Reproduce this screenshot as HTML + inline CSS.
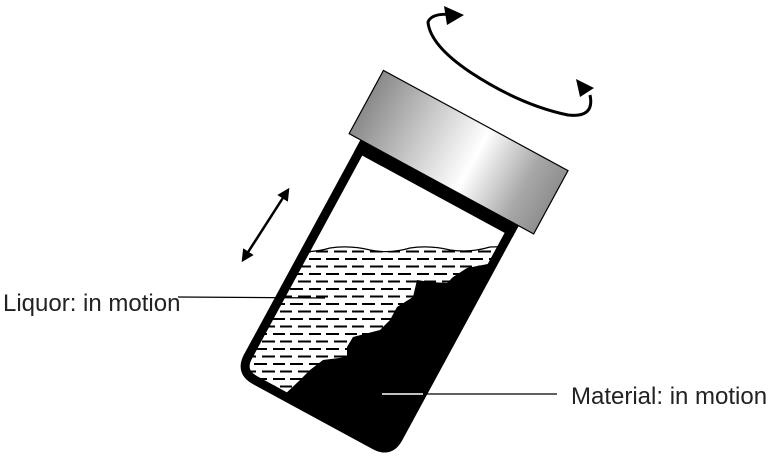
<!DOCTYPE html>
<html><head><meta charset="utf-8"><style>
html,body{margin:0;padding:0;background:#fff;}
svg{display:block;}
text{font-family:"Liberation Sans",Arial,sans-serif;font-size:24px;fill:#222;}
</style></head><body>
<svg width="773" height="463" viewBox="0 0 773 463" xmlns="http://www.w3.org/2000/svg">
<defs>
<linearGradient id="cap" x1="0" y1="0" x2="1" y2="0">
<stop offset="0" stop-color="#8a8a8a"/>
<stop offset="0.3" stop-color="#c8c8c8"/>
<stop offset="0.58" stop-color="#ffffff"/>
<stop offset="0.85" stop-color="#a8a8a8"/>
<stop offset="1" stop-color="#8f8f8f"/>
</linearGradient>
<clipPath id="inner" clipPathUnits="userSpaceOnUse">
<rect x="6" y="10" width="168" height="249" rx="15" transform="translate(361,139) rotate(28.5)"/>
</clipPath>
<pattern id="dash" width="36" height="15" patternUnits="userSpaceOnUse">
<rect x="2" y="3" width="13" height="2" fill="#000"/>
<rect x="21" y="3" width="12" height="2" fill="#000"/>
<rect x="10" y="10.5" width="13" height="2" fill="#000"/>
<rect x="28" y="10.5" width="8" height="2" fill="#000"/>
<rect x="0" y="10.5" width="4" height="2" fill="#000"/>
</pattern>
<marker id="ah" viewBox="0 0 10 10" refX="8" refY="5" markerWidth="5" markerHeight="5" orient="auto-start-reverse">
<path d="M0,0 L10,5 L0,10 z" fill="#000"/>
</marker>
</defs>

<g clip-path="url(#inner)">
<path d="M250,252 Q270,246 290,250 Q310,254 330,248 Q350,245 370,250 Q390,254 410,248 Q430,245 450,250 Q470,253 490,247 L530,246 L530,470 L220,470 Z" fill="url(#dash)" stroke="#000" stroke-width="1.2"/>
<path d="M530,262 L493,263 L467,268 L453,277 L447,283 L430,282 L417,280 L413,297 L397,307 L390,320 L380,330 L353,337 L347,347 L347,357 L323,360 L310,370 L300,380 L282,397 L270,410 L260,470 L560,470 L560,262 Z" fill="#000"/>
</g>

<g transform="translate(361,139) rotate(28.5)">
<path d="M4.5,4.5 H175.5 V245 Q175.5,262.5 158,262.5 H22 Q4.5,262.5 4.5,245 Z" fill="none" stroke="#000" stroke-width="9"/>
<rect x="0" y="0" width="180" height="14" fill="#000"/>
<rect x="-13" y="-71" width="210" height="72" fill="url(#cap)" stroke="#000" stroke-width="1.2"/>
</g>

<line x1="178" y1="297" x2="325" y2="298" stroke="#000" stroke-width="1.3"/>
<line x1="382" y1="394" x2="423" y2="394" stroke="#fff" stroke-width="1.5"/>
<line x1="423" y1="394" x2="557" y2="394" stroke="#000" stroke-width="1.3"/>

<line x1="243" y1="260" x2="288" y2="190" stroke="#000" stroke-width="2.5" marker-start="url(#ah)" marker-end="url(#ah)"/>

<path d="M455,15 Q432,12 428,22 Q430,45 470,72 Q520,105 568,115 Q595,118 590,95" fill="none" stroke="#000" stroke-width="3"/>
<path d="M464,15 L444,6 L447,25 Z" fill="#000"/>
<path d="M576,79 L594,88 L580,97 Z" fill="#000"/>

<text x="3" y="311">Liquor: in motion</text>
<text x="571" y="404">Material: in motion</text>
</svg>
</body></html>
